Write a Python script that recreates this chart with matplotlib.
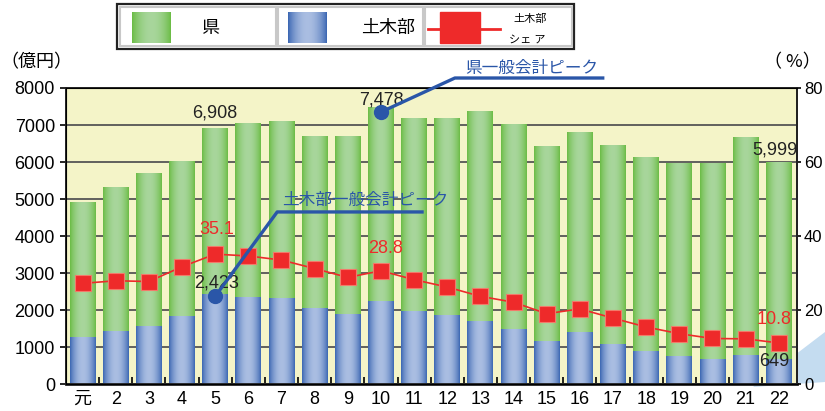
import numpy as np
import matplotlib.pyplot as plt
from matplotlib.patches import Rectangle, Polygon

plt.rcParams['font.family'] = ['Liberation Sans', 'Noto Sans CJK JP']

# 年度（平成）
years = ['元', '2', '3', '4', '5', '6', '7', '8', '9', '10', '11',
         '12', '13', '14', '15', '16', '17', '18', '19', '20', '21', '22']
# 県一般会計（億円）
ken = [4900, 5310, 5690, 6000, 6908, 7030, 7100, 6680, 6680, 7478, 7170,
       7170, 7360, 7010, 6420, 6800, 6450, 6120, 5960, 5960, 6670, 5999]
# 土木部（億円）
doboku = [1270, 1420, 1560, 1830, 2423, 2350, 2320, 2030, 1890, 2220, 1950,
          1860, 1680, 1460, 1160, 1380, 1080, 890, 750, 660, 780, 649]
# 土木部シェア（%）
share = [27.2, 27.9, 27.7, 31.7, 35.1, 34.6, 33.5, 31.2, 28.8, 30.6, 28.2,
         26.2, 23.7, 22.1, 19.0, 20.3, 17.8, 15.4, 13.6, 12.3, 12.2, 11.1]

green_edge = np.array([0x6a, 0xbc, 0x44]) / 255
green_mid = np.array([0xa8, 0xd6, 0x9c]) / 255
blue_edge = np.array([0x3a, 0x66, 0xb2]) / 255
blue_mid = np.array([0xaa, 0xbe, 0xe2]) / 255


def gradient(edge, mid, n=64):
    u = np.linspace(0, 1, n)
    t = np.sin(np.pi * u) ** 0.8
    return (edge + (mid - edge) * t[:, None])[None, :, :]


def grad_rect(ax, x0, x1, y0, y1, edge, mid, z=2):
    ax.imshow(gradient(edge, mid), extent=[x0, x1, y0, y1], aspect='auto',
              interpolation='bilinear', zorder=z)


W, H = 825, 411
fig = plt.figure(figsize=(W / 100, H / 100), dpi=100)

# 背景（凡例・装飾）
bg = fig.add_axes([0, 0, 1, 1], zorder=-1)
bg.axis('off')
bg.add_patch(Polygon([(753, 387), (825, 332), (825, 382)], closed=True,
                     color='#c4dcf0', lw=0))
bg.add_patch(Rectangle((117, 4), 457, 45, fc='white', ec='#222222', lw=1.6))
for cx, cw in [(120, 156), (278, 145), (425, 147)]:
    bg.add_patch(Rectangle((cx, 7), cw, 39, fc='white', ec='#c8c8c8', lw=1.5))
grad_rect(bg, 132, 171, 43, 12, green_edge, green_mid)
bg.text(210, 28, '県', fontsize=13, ha='center', va='center')
grad_rect(bg, 288, 327, 43, 12, blue_edge, blue_mid)
bg.text(388, 28, '土木部', fontsize=13, ha='center', va='center')
bg.plot([428, 500], [29, 29], color='#ee2a2a', lw=2, zorder=3)
bg.add_patch(Rectangle((440, 12), 40, 31, color='#ee2a2a', zorder=4))
bg.text(530, 19, '土木部', fontsize=8, ha='center', va='center')
bg.text(527, 40, 'シェ ア', fontsize=8, ha='center', va='center')
bg.set_xlim(0, W)
bg.set_ylim(H, 0)

fig.text(36 / W, 1 - 62 / H, '（億円）', fontsize=13, ha='center', va='center',
         family='Noto Sans CJK JP')
fig.text(792 / W, 1 - 62 / H, '（ %）', fontsize=13, ha='center', va='center',
         family='Noto Sans CJK JP')

ax = fig.add_axes([66 / W, 27 / H, 731 / W, 296 / H])
ax.set_facecolor('#f4f4c8')
x = np.arange(len(years))
bw = 0.78
for i in x:
    grad_rect(ax, i - bw / 2, i + bw / 2, 0, ken[i], green_edge, green_mid)
    grad_rect(ax, i - bw / 2, i + bw / 2, 0, doboku[i], blue_edge, blue_mid)

ax.set_xlim(-0.5, len(years) - 0.45)
ax.set_ylim(0, 8000)
ax.set_yticks(range(0, 8001, 1000))
ax.set_axisbelow(True)
ax.yaxis.grid(True, color='#555555', lw=1.3)
ax.set_xticks(x)
ax.set_xticklabels(years)
ax.set_xticks(x[:-1] + 0.5, minor=True)
ax.tick_params(axis='x', which='major', length=0, labelsize=13, pad=5)
ax.tick_params(axis='x', which='minor', direction='in', length=5, width=1.2)
ax.tick_params(axis='y', labelsize=13, length=4, width=1.2, pad=4)
for s in ax.spines.values():
    s.set_color('#222222')
    s.set_linewidth(1.4)
ax.spines['bottom'].set_linewidth(2)

ax2 = ax.twinx()
ax2.set_ylim(0, 80)
ax2.set_yticks(range(0, 81, 20))
ax2.tick_params(axis='y', labelsize=12, length=3, width=1.2, pad=2)
ax2.spines['right'].set_color('#222222')
ax2.spines['right'].set_linewidth(1.4)
ax2.plot(x, share, color='#ee2a2a', lw=1.2, marker='s', ms=11,
         mfc='#ee2a2a', mec='#f27a6a', mew=0.8, zorder=3)

# 値ラベル
for i, dy in [(4, 11), (9, 5)]:
    ax.annotate(f'{ken[i]:,}', (i, ken[i]), xytext=(0, dy),
                textcoords='offset points', ha='center', va='center',
                fontsize=13, color='#222222')
ax.annotate(f'{ken[21]:,}', (21, ken[21]), xytext=(-3, 9),
            textcoords='offset points', ha='center', va='center',
            fontsize=13, color='#222222')
ax.annotate(f'{doboku[4]:,}', (4, doboku[4]), xytext=(1, 8),
            textcoords='offset points', ha='center', va='center',
            fontsize=13, color='#222222', zorder=6)
ax.annotate(f'{doboku[21]}', (21, doboku[21]), xytext=(-3, -1),
            textcoords='offset points', ha='center', va='center',
            fontsize=13, color='#222222', zorder=6)
for i, lab, dx, dy in [(4, '35.1', 1, 18), (9, '28.8', 3, 16), (21, '10.8', -3, 17)]:
    ax2.annotate(lab, (i, share[i]), xytext=(dx, dy), textcoords='offset points',
                 ha='center', va='center', fontsize=13, color='#ee2a2a')

# ピーク注記
blue = '#2a56a8'
ax2.plot([9, 11.23, 15.69], [7350, 8270, 8270], color=blue, lw=2.4,
         transform=ax.transData, clip_on=False, zorder=5)
ax2.plot([9], [7350], 'o', color=blue, ms=10, transform=ax.transData, zorder=6)
ax2.text(13.55, 8540, '県一般会計ピーク', color=blue, fontsize=12,
         ha='center', va='center', transform=ax.transData)
ax2.plot([4, 5.87, 10.24], [2370, 4650, 4650], color=blue, lw=2.4,
         transform=ax.transData, clip_on=False, zorder=5)
ax2.plot([4], [2370], 'o', color=blue, ms=10, transform=ax.transData, zorder=6)
ax2.text(8.52, 4950, '土木部一般会計ピーク', color=blue, fontsize=12,
         ha='center', va='center', transform=ax.transData)

plt.savefig('out.png', dpi=100)
